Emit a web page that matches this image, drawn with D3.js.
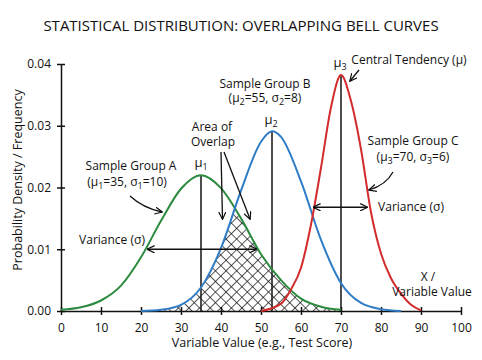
<!DOCTYPE html>
<html>
<head>
<meta charset="utf-8">
<script src="https://cdn.jsdelivr.net/npm/d3@7"></script>
<style>
    html, body { margin: 0; padding: 0; background: #fff; }
    #bell-curves { width: 482px; height: 360px; }
    text { font-family: "Open Sans", sans-serif; fill: #111; }
    .axis path, .axis line { stroke: #111; stroke-width: 1.5; }
    .axis text { font-size: 12px; fill: #111; }
    .curve { fill: none; stroke-width: 2; }
    .note { font-size: 12px; }
    .pointer { fill: none; stroke: #111; stroke-width: 1.3; }
</style>
</head>
<body>
<div id="bell-curves"></div>
<script>
const xTicks = [0, 10, 20, 30, 40, 50, 60, 70, 80, 90, 100];
const yTicks = [0, 0.01, 0.02, 0.03, 0.04];

// Sample Group A (green)
const groupAX = [0, 5, 10, 15, 20, 25, 30, 35, 40, 45, 50, 55, 60, 65, 70];
const groupAY = [0.0002, 0.0006, 0.0017, 0.0041, 0.0087, 0.0146, 0.0198, 0.0220,
    0.0199, 0.0150, 0.0092, 0.0050, 0.0020, 0.0007, 0.0002];

// Sample Group B (blue)
const groupBX = [20, 25, 30, 35, 40, 45, 50, 52.75, 55, 60, 65, 70, 75, 80, 85];
const groupBY = [0.0000, 0.0002, 0.0010, 0.0038, 0.0102, 0.0195, 0.0274, 0.0291,
    0.0282, 0.0210, 0.0115, 0.0045, 0.0013, 0.0003, 0.0000];

// Sample Group C (red)
const groupCX = [50, 55, 57.5, 60, 62.5, 65, 67.5, 70, 72.5, 75, 77.5, 80, 82.5, 85, 87.5, 90];
const groupCY = [0.0000, 0.0012, 0.0035, 0.0070, 0.0140, 0.0232, 0.0330, 0.0382,
    0.0340, 0.0262, 0.0160, 0.0093, 0.0053, 0.0028, 0.0010, 0.0001];

const meanX = [35, 52.75, 70];

(function () {
    "use strict";

    function zip(xs, ys) {
        return xs.map((x, i) => ({ x: x, y: ys[i] }));
    }

    // "_" marks the next character as a subscript
    function richText(selection, value) {
        let sub = false;
        let shifted = false;
        for (const ch of value) {
            if (ch === "_") { sub = true; continue; }
            const span = selection.append("tspan").text(ch);
            if (sub) {
                span.attr("dy", 3).style("font-size", "9px");
                shifted = true;
                sub = false;
            } else if (shifted) {
                span.attr("dy", -3);
                shifted = false;
            }
        }
        return selection;
    }

    function label(canvas, x, y, value, size) {
        const t = canvas.append("text")
            .attr("class", "note")
            .attr("x", x)
            .attr("y", y)
            .attr("text-anchor", "middle");
        if (size) t.style("font-size", size + "px");
        return richText(t, value);
    }

    function drawChart(selection) {
        const margin = { top: 64, right: 21, bottom: 49, left: 61 };
        const width = 482, height = 360;
        const w = width - margin.left - margin.right;
        const h = height - margin.top - margin.bottom;

        const svg = selection.append("svg")
            .attr("width", width)
            .attr("height", height);

        const defs = svg.append("defs");

        for (const angle of [45, -45]) {
            defs.append("pattern")
                .attr("id", "hatch" + (angle > 0 ? "a" : "b"))
                .attr("patternUnits", "userSpaceOnUse")
                .attr("width", 7.5)
                .attr("height", 7.5)
                .attr("patternTransform", `rotate(${angle})`)
                .append("line")
                .attr("x1", 0).attr("y1", 0)
                .attr("x2", 0).attr("y2", 7.5)
                .attr("stroke", "#111")
                .attr("stroke-width", 1.4);
        }

        defs.append("marker")
            .attr("id", "arrow")
            .attr("viewBox", "0 0 10 10")
            .attr("refX", 9)
            .attr("refY", 5)
            .attr("markerWidth", 8)
            .attr("markerHeight", 8)
            .attr("markerUnits", "userSpaceOnUse")
            .attr("orient", "auto-start-reverse")
            .append("path")
            .attr("d", "M0,0.5 L9.5,5 L0,9.5")
            .attr("fill", "none")
            .attr("stroke", "#111")
            .attr("stroke-width", 1.5);

        svg.append("text")
            .attr("x", width / 2)
            .attr("y", 31)
            .attr("text-anchor", "middle")
            .style("font-size", "15px")
            .text("STATISTICAL DISTRIBUTION: OVERLAPPING BELL CURVES");

        const canvas = svg.append("g")
            .attr("transform", `translate(${margin.left},${margin.top})`);

        const xScale = d3.scaleLinear().domain([0, 100]).range([0, w]);
        const yScale = d3.scaleLinear().domain([0, 0.04]).range([h, 0]);

        const series = [
            { name: "A", color: "#2b8a3e", data: zip(groupAX, groupAY) },
            { name: "B", color: "#2f7cc6", data: zip(groupBX, groupBY) },
            { name: "C", color: "#d32b2b", data: zip(groupCX, groupCY) }
        ];

        const line = d3.line()
            .x(d => xScale(d.x))
            .y(d => yScale(d.y))
            .curve(d3.curveMonotoneX);

        const area = d3.area()
            .x(d => xScale(d.x))
            .y0(h)
            .y1(d => yScale(d.y))
            .curve(d3.curveMonotoneX);

        // overlap of A and B: area under A clipped by area under B
        defs.append("clipPath")
            .attr("id", "under-b")
            .append("path")
            .attr("d", area(series[1].data));

        for (const id of ["hatcha", "hatchb"]) {
            canvas.append("path")
                .attr("d", area(series[0].data))
                .attr("fill", `url(#${id})`)
                .attr("clip-path", "url(#under-b)");
        }

        // mean lines
        meanX.forEach((m, i) => {
            const peak = d3.max(series[i].data, d => d.y);
            canvas.append("line")
                .attr("x1", xScale(m)).attr("x2", xScale(m))
                .attr("y1", h).attr("y2", yScale(peak))
                .attr("stroke", "#222")
                .attr("stroke-width", 1.6);
        });

        const xAxis = canvas.append("g")
            .attr("class", "axis")
            .attr("transform", `translate(0,${h})`)
            .call(d3.axisBottom(xScale).tickValues(xTicks).tickSize(4).tickSizeOuter(0).tickPadding(6));
        xAxis.selectAll(".tick line").attr("y1", -4).attr("y2", 4);
        xAxis.selectAll(".tick text").attr("dy", "0.95em");

        const yAxis = canvas.append("g")
            .attr("class", "axis")
            .call(d3.axisLeft(yScale).tickValues(yTicks).tickFormat(d3.format(".2f")).tickSize(4).tickSizeOuter(0).tickPadding(6));
        yAxis.selectAll(".tick line").attr("x1", -4).attr("x2", 4);

        for (const s of series) {
            canvas.append("path")
                .attr("class", "curve")
                .attr("stroke", s.color)
                .attr("d", line(s.data));
        }

        svg.append("text")
            .attr("x", 262)
            .attr("y", 347)
            .attr("text-anchor", "middle")
            .style("font-size", "12.5px")
            .text("Variable Value (e.g., Test Score)");

        svg.append("text")
            .attr("transform", "translate(22,180) rotate(-90)")
            .attr("text-anchor", "middle")
            .style("font-size", "12.5px")
            .text("Probability Density / Frequency");

        // annotations (page coordinates)
        const notes = svg.append("g");
        label(notes, 131, 170, "Sample Group A");
        label(notes, 127, 186, "(μ_1=35, σ_1=10)");
        label(notes, 112, 244, "Variance (σ)");
        label(notes, 212, 131, "Area of");
        label(notes, 213, 146, "Overlap");
        label(notes, 265, 88, "Sample Group B");
        label(notes, 265, 102, "(μ_2=55, σ_2=8)");
        label(notes, 413, 145, "Sample Group C");
        label(notes, 413, 161, "(μ_3=70, σ_3=6)");
        label(notes, 411, 211, "Variance (σ)");
        label(notes, 409, 64, "Central Tendency (μ)");
        label(notes, 428, 281, "X /");
        label(notes, 432, 296, "Variable Value");
        label(notes, 201, 167, "μ_1", 13);
        label(notes, 271, 124, "μ_2", 13);
        label(notes, 340, 67, "μ_3", 13);

        const px = v => margin.left + xScale(v);
        const py = v => margin.top + yScale(v);

        const pointers = [
            `M${px(21.6)},${py(0.0100)} L${px(48.9)},${py(0.0100)}`,
            `M${px(63.1)},${py(0.0168)} L${px(76.6)},${py(0.0168)}`
        ];
        for (const d of pointers) {
            notes.append("path")
                .attr("class", "pointer")
                .attr("d", d)
                .attr("marker-start", "url(#arrow)")
                .attr("marker-end", "url(#arrow)");
        }

        const singles = [
            "M130,196 Q143,208 162,212",
            "M221,152 L222.5,219",
            "M224,152 L250,219",
            "M393,172 Q386,185 369,190",
            "M359,70 L350,81"
        ];
        for (const d of singles) {
            notes.append("path")
                .attr("class", "pointer")
                .attr("d", d)
                .attr("marker-end", "url(#arrow)");
        }
    }

    d3.select("#bell-curves").call(drawChart);
}());
</script>
</body>
</html>
